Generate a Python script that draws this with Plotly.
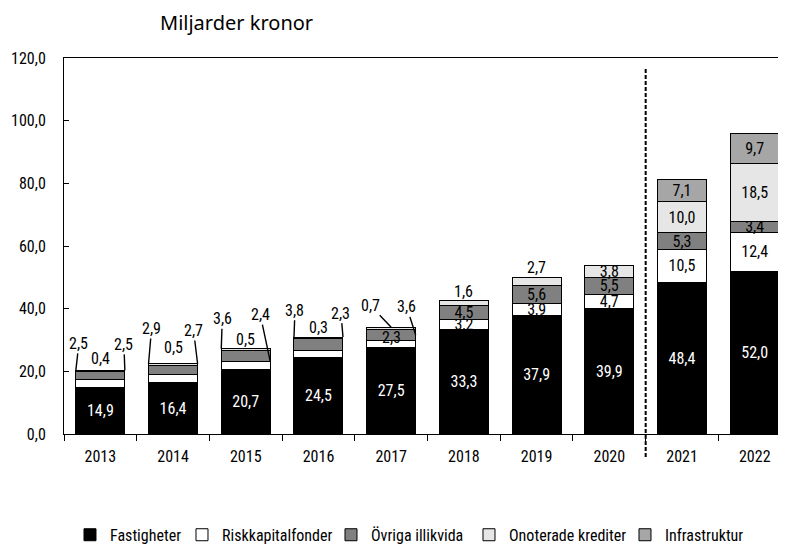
import plotly.graph_objects as go

years = ["2013", "2014", "2015", "2016", "2017", "2018", "2019", "2020", "2021", "2022"]
fastigheter = [14.9, 16.4, 20.7, 24.5, 27.5, 33.3, 37.9, 39.9, 48.4, 52.0]
riskkapital = [2.5, 2.7, 2.4, 2.3, 2.3, 3.2, 3.9, 4.7, 10.5, 12.4]
ovriga = [2.5, 2.9, 3.6, 3.8, 3.6, 4.5, 5.6, 5.5, 5.3, 3.4]
onoterade = [0.4, 0.5, 0.5, 0.3, 0.7, 1.6, 2.7, 3.8, 10.0, 18.5]
infrastruktur = [None, None, None, None, None, None, None, None, 7.1, 9.7]

y_ticks = [0, 20, 40, 60, 80, 100, 120]

FONT = "Roboto Condensed, Liberation Sans Narrow, Arial Narrow, Roboto, sans-serif"
FS = 16
BARGAP = 0.326
HW = (1 - BARGAP) / 2


def fmt(v):
    return f"{v:.1f}".replace(".", ",")


series = [
    ("Fastigheter", fastigheter, "#000000", "white", 67),
    ("Riskkapitalfonder", riskkapital, "#ffffff", "black", 104),
    ("Övriga illikvida", ovriga, "#808080", "black", 93),
    ("Onoterade krediter", onoterade, "#e6e6e6", "black", 111),
    ("Infrastruktur", infrastruktur, "#a6a6a6", "black", 80),
]

# which labels are drawn centred inside the segment (others are callouts)
inside_from = {"Fastigheter": 0, "Riskkapitalfonder": 5, "Övriga illikvida": 5,
               "Onoterade krediter": 7, "Infrastruktur": 8}

fig = go.Figure()
for name, vals, col, tcol, lw in series:
    start = inside_from[name]
    texts = [fmt(v) if (v is not None and i >= start) else "" for i, v in enumerate(vals)]
    fig.add_trace(go.Bar(
        x=years, y=vals, name=name, legendwidth=lw,
        marker=dict(color=col, line=dict(color="black", width=1)),
        text=texts, textposition="inside", insidetextanchor="middle",
        constraintext="none", textangle=0,
        textfont=dict(family=FONT, size=FS, color=tcol),
        hoverinfo="skip",
    ))


def val(v):
    return v or 0


totals = [sum(val(s[1][i]) for s in series) for i in range(len(years))]
lookup = {"fast": fastigheter, "risk": riskkapital, "ovriga": ovriga, "onot": onoterade}

annotations = []

# callouts with leader lines: (series key, year index, side, level, ax, ay)
callouts = [
    ("ovriga", 0, "left", "top", 3, -27),
    ("risk", 0, "right", "top", -1, -26),
    ("ovriga", 1, "left", "top", 3, -35),
    ("risk", 1, "right", "top", -4, -33),
    ("ovriga", 2, "left", "top", 1, -30),
    ("risk", 2, "right", "risktop", -10, -47),
    ("ovriga", 3, "left", "top", 1, -27),
    ("risk", 3, "right", "top", -2, -24),
    ("onot", 4, "center", "top", -21, -22),
    ("ovriga", 4, "right", "ovrmid", -9, -28),
]
for key, i, side, level, ax, ay in callouts:
    xc = i + {"left": -HW, "right": HW, "center": 0}[side]
    if level == "top":
        yv = totals[i]
    elif level == "risktop":
        yv = fastigheter[i] + riskkapital[i]
    else:
        yv = fastigheter[i] + riskkapital[i] + ovriga[i] / 2
    annotations.append(dict(
        x=xc, y=yv, xref="x", yref="y", text=fmt(lookup[key][i]),
        showarrow=True, arrowhead=0, arrowwidth=1.4, arrowcolor="black",
        ax=ax, ay=ay, axref="pixel", ayref="pixel", standoff=0, startstandoff=0,
        font=dict(family=FONT, size=FS, color="black"), borderpad=0,
    ))

# plain labels above the bars (no leader line): (series key, year index, yshift)
plain = [("onot", 0, 12), ("onot", 1, 16), ("onot", 2, 9), ("onot", 3, 10),
         ("onot", 5, 9), ("onot", 6, 10)]
for key, i, ys in plain:
    annotations.append(dict(
        x=i, y=totals[i], xref="x", yref="y", text=fmt(lookup[key][i]),
        showarrow=False, yshift=ys,
        font=dict(family=FONT, size=FS, color="black"),
    ))
# 2017 Riskkapitalfonder label, slightly above its segment centre
annotations.append(dict(
    x=4, y=fastigheter[4] + riskkapital[4] / 2, xref="x", yref="y",
    text=fmt(riskkapital[4]), showarrow=False, yshift=7,
    font=dict(family=FONT, size=FS, color="black"),
))

# title
annotations.append(dict(
    text="Miljarder kronor", xref="paper", yref="paper", x=0.0, y=1.0,
    xanchor="left", yanchor="middle", showarrow=False,
    xshift=94, yshift=36,
    font=dict(family="Noto Sans, Open Sans, sans-serif", size=20, color="black"),
))

# the page adds an 8px body margin, so the figure is 8px smaller and shifted
fig.update_layout(
    width=778, height=538,
    margin=dict(l=56, r=0, t=50, b=112, autoexpand=False),
    barmode="stack", bargap=BARGAP,
    plot_bgcolor="white", paper_bgcolor="white",
    separators=", ",
    font=dict(family=FONT, size=FS, color="black"),
    annotations=annotations,
    showlegend=True,
    legend=dict(orientation="h", x=0.0083, xanchor="left", y=-0.223, yanchor="top",
                traceorder="normal", font=dict(family=FONT, size=FS, color="black"),
                itemwidth=30, entrywidthmode="pixels", bgcolor="rgba(0,0,0,0)"),
    shapes=[dict(type="line", xref="x", yref="paper", x0=7.5, x1=7.5, y0=-0.061, y1=0.976,
                 line=dict(color="black", width=2, dash="4px,2px"))],
)
fig.update_xaxes(
    type="category", range=[-0.5, 9.43], showline=True, linecolor="black", linewidth=1,
    mirror=True, ticks="outside", ticklen=6, tickcolor="black", tickson="boundaries",
    showgrid=False, tickfont=dict(family=FONT, size=FS), ticklabelstandoff=8,
    automargin=False,
)
fig.update_yaxes(
    range=[0, 120], tickvals=y_ticks, tickformat=".1f", showline=True, linecolor="black",
    linewidth=1, ticks="inside", ticklen=5, tickcolor="black", showgrid=False,
    zeroline=False, tickfont=dict(family=FONT, size=FS), ticklabelstandoff=14,
    automargin=False,
)

fig.write_html("out.html")
